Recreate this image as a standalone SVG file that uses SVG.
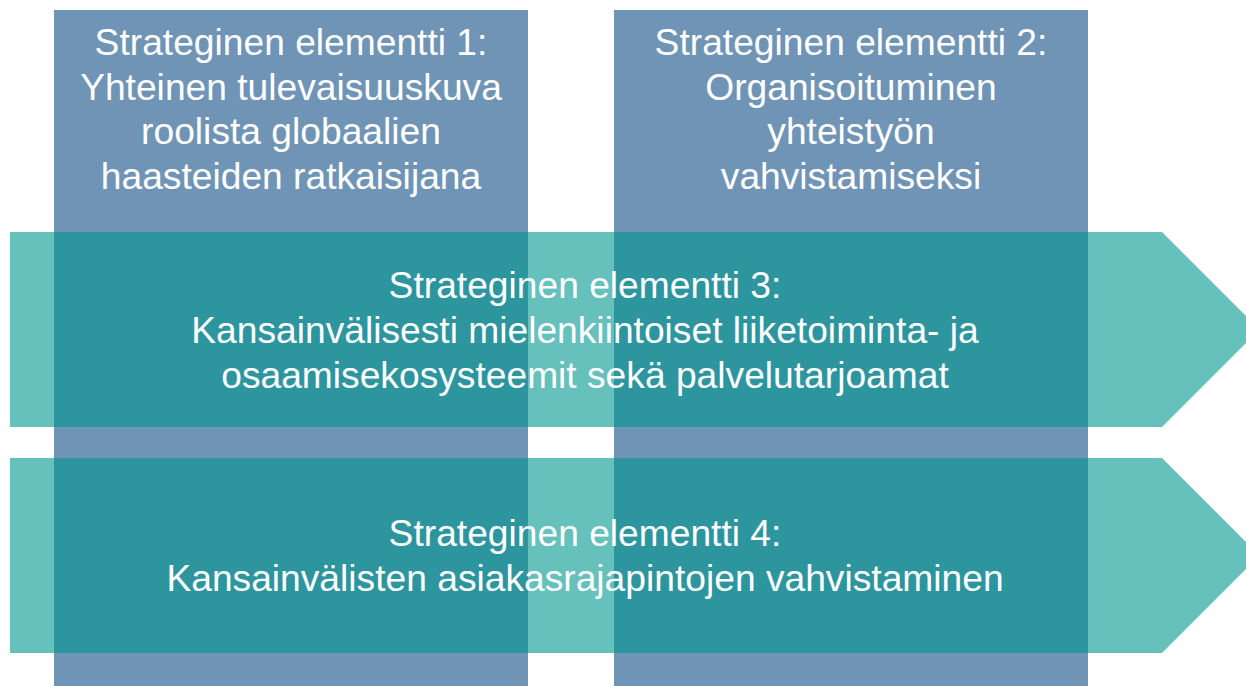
<svg xmlns="http://www.w3.org/2000/svg" width="1246" height="686" viewBox="0 0 1246 686">
  <style>
    .col { fill: #7094b5; }
    .arr { fill: #00968f; fill-opacity: 0.6; }
    .t { font-family: "Liberation Sans", Arial, sans-serif; font-size: 37.2px; fill: #ffffff; text-anchor: middle; }
  </style>
  <rect width="1246" height="686" fill="#ffffff"/>
  <g id="element1">
    <rect class="col" x="54" y="10" width="474" height="676"/>
    <text class="t" x="291" y="55">Strateginen elementti 1:</text>
    <text class="t" x="291" y="100">Yhteinen tulevaisuuskuva</text>
    <text class="t" x="291" y="144">roolista globaalien</text>
    <text class="t" x="291" y="189">haasteiden ratkaisijana</text>
  </g>
  <g id="element2">
    <rect class="col" x="614" y="10" width="474" height="676"/>
    <text class="t" x="851" y="55">Strateginen elementti 2:</text>
    <text class="t" x="851" y="100">Organisoituminen</text>
    <text class="t" x="851" y="144">yhteistyön</text>
    <text class="t" x="851" y="189">vahvistamiseksi</text>
  </g>
  <g id="connectors"></g>
  <g id="element3">
    <polygon class="arr" points="10,232 1162,232 1259.5,329.5 1162,427 10,427"/>
    <text class="t" x="585" y="298">Strateginen elementti 3:</text>
    <text class="t" x="585" y="343">Kansainvälisesti mielenkiintoiset liiketoiminta- ja</text>
    <text class="t" x="585" y="388">osaamisekosysteemit sekä palvelutarjoamat</text>
  </g>
  <g id="element4">
    <polygon class="arr" points="10,458 1162,458 1259.5,555.5 1162,653 10,653"/>
    <text class="t" x="585" y="546">Strateginen elementti 4:</text>
    <text class="t" x="585" y="591">Kansainvälisten asiakasrajapintojen vahvistaminen</text>
  </g>
</svg>
